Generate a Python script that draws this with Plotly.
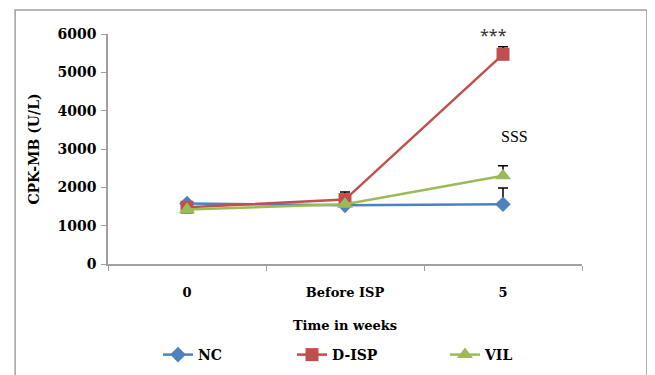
import plotly.graph_objects as go

categories = ["0", "Before ISP", "5"]
nc = [1580, 1530, 1560]
nc_err = [0, 0, 420]
disp = [1480, 1680, 5470]
disp_err = [0, 200, 200]
vil = [1420, 1560, 2300]
vil_err = [0, 0, 260]

series = [
    ("NC", nc, nc_err, "#4F81BD", "diamond", 12, "legend"),
    ("D-ISP", disp, disp_err, "#C0504D", "square", 13, "legend2"),
    ("VIL", vil, vil_err, "#9BBB59", "triangle-up", 14, "legend3"),
]

fig = go.Figure()
for name, vals, err, color, sym, size, lg in series:
    fig.add_trace(go.Scatter(
        x=categories, y=vals, name=name, mode="lines+markers", legend=lg,
        line=dict(color=color, width=2.5),
        marker=dict(symbol=sym, size=size, color=color),
        error_y=dict(type="data", array=err, arrayminus=[0]*len(err),
                     symmetric=False, color="black", thickness=1.5, width=5),
    ))

font_serif = "DejaVu Serif"
lfont = dict(family=font_serif, size=14, color="black", weight="bold")
def leg(xpx):
    return dict(orientation="h", x=(xpx - 108) / 474, y=(264 - 355) / 230,
                xanchor="left", yanchor="middle", font=lfont,
                bgcolor="rgba(0,0,0,0)")

fig.update_layout(
    width=647, height=367,
    margin=dict(l=100, r=73, t=26, b=111, autoexpand=False),
    paper_bgcolor="white", plot_bgcolor="white",
    font=dict(family=font_serif, color="black", size=14),
    showlegend=True,
    legend=leg(158), legend2=leg(292), legend3=leg(445),
    xaxis=dict(type="category", range=[-0.5, 2.5], showgrid=False,
               showline=True, linecolor="#A0A0A0", linewidth=1.5,
               ticks="outside", tickson="boundaries", ticklen=5, tickcolor="#A0A0A0",
               ticklabelstandoff=16, automargin=False,
               tickfont=dict(family=font_serif, size=13, weight="bold"),
               title=dict(text="Time in weeks", standoff=22,
                          font=dict(family=font_serif, size=13, weight="bold"))),
    yaxis=dict(range=[0, 6000], dtick=1000, showgrid=False, zeroline=False,
               showline=True, linecolor="#A0A0A0", linewidth=1.5,
               ticks="outside", ticklen=5, tickcolor="#A0A0A0", automargin=False,
               ticklabelstandoff=2,
               tickfont=dict(family=font_serif, size=14, weight="bold"),
               title=dict(text="CPK-MB (U/L)", standoff=15,
                          font=dict(family=font_serif, size=14, weight="bold"))),
    shapes=[dict(type="rect", xref="paper", yref="paper",
                 x0=-0.196, x1=1.137, y0=-0.52, y1=1.104,
                 line=dict(color="#A0A0A0", width=1.5), fillcolor="rgba(0,0,0,0)",
                 layer="below")],
    annotations=[
        dict(x=2, y=(264 - 35) / 230, xref="x", yref="paper", text="***", showarrow=False,
             yanchor="middle", xshift=-10,
             font=dict(family="Noto Sans", size=16, color="#333")),
        dict(x=2, y=3315, xref="x", yref="y", text="SSS", showarrow=False,
             xshift=11, font=dict(family="Liberation Sans Narrow", size=16, color="black")),
    ],
)

fig.write_html("out.html")
